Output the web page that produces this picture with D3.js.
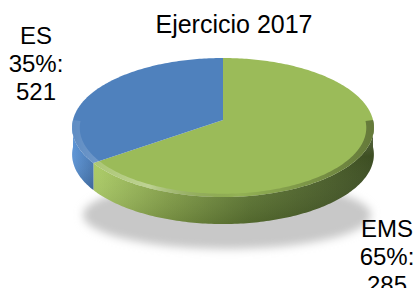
<!DOCTYPE html>
<html>
<head>
<meta charset="utf-8">
<script src="https://cdn.jsdelivr.net/npm/d3@7"></script>
<style>
  body { margin: 0; background: #fff; }
  svg { display: block; font-family: Arial, "Liberation Sans", sans-serif; }
</style>
</head>
<body>
<div class="chart"></div>
<script>
// Slice data
const categories = ["EMS", "ES"];
const percents = [65, 35];
const counts = [285, 521];
const chartTitle = "Ejercicio 2017";

const width = 417,
  height = 288;

// Pie geometry (simple perspective projection of a tilted disc)
const cx = 223,
  cy = 120,
  rx = 150,
  ryScale = 68.7,
  persp = 0.108,
  depth = 27;

const svg = d3
  .select(".chart")
  .append("svg")
  .attr("width", width)
  .attr("height", height);

const defs = svg.append("defs");

// Color scales
const topColor = d3.scaleOrdinal().domain(categories).range(["#9bbb59", "#4f81bd"]);

// project angle (clockwise from 12 o'clock) at radius r to screen
function project(a, r) {
  const u = Math.sin(a) * r;
  const v = -Math.cos(a) * r;
  const k = 1 - persp * v;
  return [cx + (rx * u) / k, cy + (ryScale * v) / k];
}

function arcPoints(a0, a1, r, dy) {
  const n = Math.max(2, Math.ceil(((a1 - a0) * 180) / Math.PI));
  const pts = [];
  for (let i = 0; i <= n; i++) {
    const p = project(a0 + ((a1 - a0) * i) / n, r);
    pts.push([p[0], p[1] + (dy || 0)]);
  }
  return pts;
}

const pie = d3
  .pie()
  .sort(null)
  .value((d, i) => percents[i]);
const slices = pie(categories);

// shadow under the pie
defs
  .append("filter")
  .attr("id", "blur")
  .attr("x", "-20%")
  .attr("y", "-50%")
  .attr("width", "140%")
  .attr("height", "200%")
  .append("feGaussianBlur")
  .attr("stdDeviation", 4);

svg
  .append("ellipse")
  .attr("cx", cx + 4)
  .attr("cy", cy + depth + 68)
  .attr("rx", rx - 6)
  .attr("ry", 34)
  .attr("fill", "#c8c8c8")
  .attr("filter", "url(#blur)");

// side gradients
const sideStops = {
  EMS: [
    [0, "#a9c964"],
    [0.25, "#86a24a"],
    [0.55, "#5f7834"],
    [1, "#3c4d22"],
  ],
  ES: [
    [0, "#5b93d4"],
    [1, "#3f6ea8"],
  ],
};
categories.forEach((c) => {
  const g = defs
    .append("linearGradient")
    .attr("id", "side-" + c)
    .attr("gradientUnits", "userSpaceOnUse")
    .attr("x1", c === "EMS" ? 100 : 74)
    .attr("x2", c === "EMS" ? 373 : 100)
    .attr("y1", 0)
    .attr("y2", 0);
  sideStops[c].forEach((s) => {
    g.append("stop").attr("offset", s[0]).attr("stop-color", s[1]);
  });
});

// vertical shading for the side wall
const vShade = defs
  .append("linearGradient")
  .attr("id", "vshade")
  .attr("x1", 0)
  .attr("x2", 0)
  .attr("y1", 0)
  .attr("y2", 1);
vShade.append("stop").attr("offset", 0).attr("stop-color", "#fff").attr("stop-opacity", 0.25);
vShade.append("stop").attr("offset", 0.35).attr("stop-color", "#fff").attr("stop-opacity", 0);
vShade.append("stop").attr("offset", 1).attr("stop-color", "#000").attr("stop-opacity", 0.15);

const line = d3.line();

// side walls (front half only)
slices.forEach((s) => {
  const a0 = Math.max(s.startAngle, Math.PI / 2);
  const a1 = Math.min(s.endAngle, (3 * Math.PI) / 2);
  if (a1 <= a0) return;
  const top = arcPoints(a0, a1, 1, 0);
  const bottom = arcPoints(a0, a1, 1, depth).reverse();
  const d = line(top.concat(bottom)) + "Z";
  svg.append("path").attr("d", d).attr("fill", "url(#side-" + s.data + ")");
  svg.append("path").attr("d", d).attr("fill", "url(#vshade)");
});

// top faces
slices.forEach((s) => {
  const pts = [[cx, cy]].concat(arcPoints(s.startAngle, s.endAngle, 1, 0));
  svg
    .append("path")
    .attr("d", line(pts) + "Z")
    .attr("fill", topColor(s.data));
});

// bevel highlight along the front rim
const bevel = defs
  .append("linearGradient")
  .attr("id", "bevel")
  .attr("gradientUnits", "userSpaceOnUse")
  .attr("x1", 74)
  .attr("x2", 373)
  .attr("y1", 0)
  .attr("y2", 0);
bevel.append("stop").attr("offset", 0).attr("stop-color", "#fff").attr("stop-opacity", 0.1);
bevel.append("stop").attr("offset", 0.25).attr("stop-color", "#fff").attr("stop-opacity", 0.35);
bevel.append("stop").attr("offset", 0.55).attr("stop-color", "#000").attr("stop-opacity", 0.05);
bevel.append("stop").attr("offset", 1).attr("stop-color", "#000").attr("stop-opacity", 0.35);

const rimOuter = arcPoints(Math.PI / 2, (3 * Math.PI) / 2, 1, 0);
const rimInner = arcPoints(Math.PI / 2, (3 * Math.PI) / 2, 0.95, 1).reverse();
svg
  .append("path")
  .attr("d", line(rimOuter.concat(rimInner)) + "Z")
  .attr("fill", "url(#bevel)");

// title
svg
  .append("text")
  .attr("x", 234)
  .attr("y", 33)
  .attr("text-anchor", "middle")
  .attr("font-size", 25)
  .attr("fill", "#000")
  .text(chartTitle);

// data labels
const labelPos = { ES: [36, 44], EMS: [387, 237] };
categories.forEach((c, i) => {
  const t = svg
    .append("text")
    .attr("text-anchor", "middle")
    .attr("font-size", 24)
    .attr("fill", "#000");
  [c, percents[i] + "%:", String(counts[i])].forEach((txt, j) => {
    t.append("tspan")
      .attr("x", labelPos[c][0])
      .attr("y", labelPos[c][1] + j * 28)
      .text(txt);
  });
});
</script>
</body>
</html>
